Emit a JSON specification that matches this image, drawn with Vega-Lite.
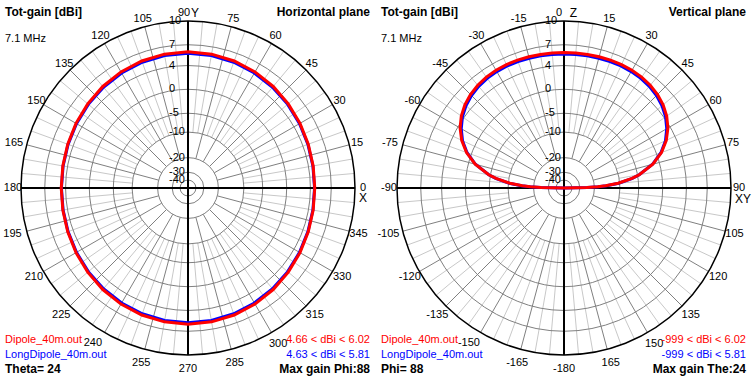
{
  "$schema": "https://vega.github.io/schema/vega-lite/v6.json",
  "background": "white",
  "padding": 0,
  "bounds": "flush",
  "spacing": 0,
  "config": {"view": {"stroke": null}, "text": {"font": "Liberation Sans", "fontSize": 11, "color": "black"}},
  "datasets": {
    "ang": [{"a":0},{"a":5},{"a":10},{"a":15},{"a":20},{"a":25},{"a":30},{"a":35},{"a":40},{"a":45},{"a":50},{"a":55},{"a":60},{"a":65},{"a":70},{"a":75},{"a":80},{"a":85},{"a":90},{"a":95},{"a":100},{"a":105},{"a":110},{"a":115},{"a":120},{"a":125},{"a":130},{"a":135},{"a":140},{"a":145},{"a":150},{"a":155},{"a":160},{"a":165},{"a":170},{"a":175},{"a":180},{"a":185},{"a":190},{"a":195},{"a":200},{"a":205},{"a":210},{"a":215},{"a":220},{"a":225},{"a":230},{"a":235},{"a":240},{"a":245},{"a":250},{"a":255},{"a":260},{"a":265},{"a":270},{"a":275},{"a":280},{"a":285},{"a":290},{"a":295},{"a":300},{"a":305},{"a":310},{"a":315},{"a":320},{"a":325},{"a":330},{"a":335},{"a":340},{"a":345},{"a":350},{"a":355}],
    "rings": [{"db":10},{"db":7},{"db":4},{"db":0},{"db":-5},{"db":-10},{"db":-20},{"db":-30},{"db":-40}],
    "hp": [
      {"s":"Dipole_40m.out","a":0,"g":4.66},{"s":"Dipole_40m.out","a":10,"g":4.71},{"s":"Dipole_40m.out","a":20,"g":4.84},{"s":"Dipole_40m.out","a":30,"g":5.04},{"s":"Dipole_40m.out","a":40,"g":5.27},{"s":"Dipole_40m.out","a":50,"g":5.51},{"s":"Dipole_40m.out","a":60,"g":5.72},{"s":"Dipole_40m.out","a":70,"g":5.88},{"s":"Dipole_40m.out","a":80,"g":5.99},{"s":"Dipole_40m.out","a":90,"g":6.02},{"s":"Dipole_40m.out","a":100,"g":5.99},{"s":"Dipole_40m.out","a":110,"g":5.88},{"s":"Dipole_40m.out","a":120,"g":5.72},{"s":"Dipole_40m.out","a":130,"g":5.51},{"s":"Dipole_40m.out","a":140,"g":5.27},{"s":"Dipole_40m.out","a":150,"g":5.04},{"s":"Dipole_40m.out","a":160,"g":4.84},{"s":"Dipole_40m.out","a":170,"g":4.71},{"s":"Dipole_40m.out","a":180,"g":4.66},{"s":"Dipole_40m.out","a":190,"g":4.71},{"s":"Dipole_40m.out","a":200,"g":4.84},{"s":"Dipole_40m.out","a":210,"g":5.04},{"s":"Dipole_40m.out","a":220,"g":5.27},{"s":"Dipole_40m.out","a":230,"g":5.51},{"s":"Dipole_40m.out","a":240,"g":5.72},{"s":"Dipole_40m.out","a":250,"g":5.88},{"s":"Dipole_40m.out","a":260,"g":5.99},{"s":"Dipole_40m.out","a":270,"g":6.02},{"s":"Dipole_40m.out","a":280,"g":5.99},{"s":"Dipole_40m.out","a":290,"g":5.88},{"s":"Dipole_40m.out","a":300,"g":5.72},{"s":"Dipole_40m.out","a":310,"g":5.51},{"s":"Dipole_40m.out","a":320,"g":5.27},{"s":"Dipole_40m.out","a":330,"g":5.04},{"s":"Dipole_40m.out","a":340,"g":4.84},{"s":"Dipole_40m.out","a":350,"g":4.71},{"s":"Dipole_40m.out","a":360,"g":4.66},
      {"s":"LongDipole_40m.out","a":0,"g":4.63},{"s":"LongDipole_40m.out","a":10,"g":4.67},{"s":"LongDipole_40m.out","a":20,"g":4.79},{"s":"LongDipole_40m.out","a":30,"g":4.96},{"s":"LongDipole_40m.out","a":40,"g":5.16},{"s":"LongDipole_40m.out","a":50,"g":5.36},{"s":"LongDipole_40m.out","a":60,"g":5.54},{"s":"LongDipole_40m.out","a":70,"g":5.69},{"s":"LongDipole_40m.out","a":80,"g":5.78},{"s":"LongDipole_40m.out","a":90,"g":5.81},{"s":"LongDipole_40m.out","a":100,"g":5.78},{"s":"LongDipole_40m.out","a":110,"g":5.69},{"s":"LongDipole_40m.out","a":120,"g":5.54},{"s":"LongDipole_40m.out","a":130,"g":5.36},{"s":"LongDipole_40m.out","a":140,"g":5.16},{"s":"LongDipole_40m.out","a":150,"g":4.96},{"s":"LongDipole_40m.out","a":160,"g":4.79},{"s":"LongDipole_40m.out","a":170,"g":4.67},{"s":"LongDipole_40m.out","a":180,"g":4.63},{"s":"LongDipole_40m.out","a":190,"g":4.67},{"s":"LongDipole_40m.out","a":200,"g":4.79},{"s":"LongDipole_40m.out","a":210,"g":4.96},{"s":"LongDipole_40m.out","a":220,"g":5.16},{"s":"LongDipole_40m.out","a":230,"g":5.36},{"s":"LongDipole_40m.out","a":240,"g":5.54},{"s":"LongDipole_40m.out","a":250,"g":5.69},{"s":"LongDipole_40m.out","a":260,"g":5.78},{"s":"LongDipole_40m.out","a":270,"g":5.81},{"s":"LongDipole_40m.out","a":280,"g":5.78},{"s":"LongDipole_40m.out","a":290,"g":5.69},{"s":"LongDipole_40m.out","a":300,"g":5.54},{"s":"LongDipole_40m.out","a":310,"g":5.36},{"s":"LongDipole_40m.out","a":320,"g":5.16},{"s":"LongDipole_40m.out","a":330,"g":4.96},{"s":"LongDipole_40m.out","a":340,"g":4.79},{"s":"LongDipole_40m.out","a":350,"g":4.67},{"s":"LongDipole_40m.out","a":360,"g":4.63}
    ],
    "vp": [
      {"s":"Dipole_40m.out","a":-90,"g":-999},{"s":"Dipole_40m.out","a":-89,"g":-24.42},{"s":"Dipole_40m.out","a":-88,"g":-18.4},{"s":"Dipole_40m.out","a":-87,"g":-14.9},{"s":"Dipole_40m.out","a":-85,"g":-10.49},{"s":"Dipole_40m.out","a":-82,"g":-6.47},{"s":"Dipole_40m.out","a":-80,"g":-4.6},{"s":"Dipole_40m.out","a":-75,"g":-1.29},{"s":"Dipole_40m.out","a":-70,"g":0.91},{"s":"Dipole_40m.out","a":-65,"g":2.48},{"s":"Dipole_40m.out","a":-60,"g":3.62},{"s":"Dipole_40m.out","a":-55,"g":4.45},{"s":"Dipole_40m.out","a":-50,"g":5.05},{"s":"Dipole_40m.out","a":-45,"g":5.47},{"s":"Dipole_40m.out","a":-40,"g":5.74},{"s":"Dipole_40m.out","a":-35,"g":5.91},{"s":"Dipole_40m.out","a":-30,"g":5.99},{"s":"Dipole_40m.out","a":-25,"g":6.02},{"s":"Dipole_40m.out","a":-20,"g":6.01},{"s":"Dipole_40m.out","a":-15,"g":5.98},{"s":"Dipole_40m.out","a":-10,"g":5.95},{"s":"Dipole_40m.out","a":-5,"g":5.93},{"s":"Dipole_40m.out","a":0,"g":5.92},{"s":"Dipole_40m.out","a":5,"g":5.93},{"s":"Dipole_40m.out","a":10,"g":5.95},{"s":"Dipole_40m.out","a":15,"g":5.98},{"s":"Dipole_40m.out","a":20,"g":6.01},{"s":"Dipole_40m.out","a":25,"g":6.02},{"s":"Dipole_40m.out","a":30,"g":5.99},{"s":"Dipole_40m.out","a":35,"g":5.91},{"s":"Dipole_40m.out","a":40,"g":5.74},{"s":"Dipole_40m.out","a":45,"g":5.47},{"s":"Dipole_40m.out","a":50,"g":5.05},{"s":"Dipole_40m.out","a":55,"g":4.45},{"s":"Dipole_40m.out","a":60,"g":3.62},{"s":"Dipole_40m.out","a":65,"g":2.48},{"s":"Dipole_40m.out","a":70,"g":0.91},{"s":"Dipole_40m.out","a":75,"g":-1.29},{"s":"Dipole_40m.out","a":80,"g":-4.6},{"s":"Dipole_40m.out","a":82,"g":-6.47},{"s":"Dipole_40m.out","a":85,"g":-10.49},{"s":"Dipole_40m.out","a":87,"g":-14.9},{"s":"Dipole_40m.out","a":88,"g":-18.4},{"s":"Dipole_40m.out","a":89,"g":-24.42},{"s":"Dipole_40m.out","a":90,"g":-999},
      {"s":"LongDipole_40m.out","a":-90,"g":-999},{"s":"LongDipole_40m.out","a":-89,"g":-23.92},{"s":"LongDipole_40m.out","a":-88,"g":-18.0},{"s":"LongDipole_40m.out","a":-87,"g":-14.6},{"s":"LongDipole_40m.out","a":-85,"g":-10.29},{"s":"LongDipole_40m.out","a":-82,"g":-6.37},{"s":"LongDipole_40m.out","a":-80,"g":-4.6},{"s":"LongDipole_40m.out","a":-75,"g":-1.34},{"s":"LongDipole_40m.out","a":-70,"g":0.81},{"s":"LongDipole_40m.out","a":-65,"g":2.33},{"s":"LongDipole_40m.out","a":-60,"g":3.41},{"s":"LongDipole_40m.out","a":-55,"g":4.24},{"s":"LongDipole_40m.out","a":-50,"g":4.84},{"s":"LongDipole_40m.out","a":-45,"g":5.26},{"s":"LongDipole_40m.out","a":-40,"g":5.53},{"s":"LongDipole_40m.out","a":-35,"g":5.7},{"s":"LongDipole_40m.out","a":-30,"g":5.78},{"s":"LongDipole_40m.out","a":-25,"g":5.81},{"s":"LongDipole_40m.out","a":-20,"g":5.8},{"s":"LongDipole_40m.out","a":-15,"g":5.77},{"s":"LongDipole_40m.out","a":-10,"g":5.74},{"s":"LongDipole_40m.out","a":-5,"g":5.72},{"s":"LongDipole_40m.out","a":0,"g":5.71},{"s":"LongDipole_40m.out","a":5,"g":5.72},{"s":"LongDipole_40m.out","a":10,"g":5.74},{"s":"LongDipole_40m.out","a":15,"g":5.77},{"s":"LongDipole_40m.out","a":20,"g":5.8},{"s":"LongDipole_40m.out","a":25,"g":5.81},{"s":"LongDipole_40m.out","a":30,"g":5.78},{"s":"LongDipole_40m.out","a":35,"g":5.7},{"s":"LongDipole_40m.out","a":40,"g":5.53},{"s":"LongDipole_40m.out","a":45,"g":5.26},{"s":"LongDipole_40m.out","a":50,"g":4.84},{"s":"LongDipole_40m.out","a":55,"g":4.24},{"s":"LongDipole_40m.out","a":60,"g":3.41},{"s":"LongDipole_40m.out","a":65,"g":2.33},{"s":"LongDipole_40m.out","a":70,"g":0.81},{"s":"LongDipole_40m.out","a":75,"g":-1.34},{"s":"LongDipole_40m.out","a":80,"g":-4.6},{"s":"LongDipole_40m.out","a":82,"g":-6.37},{"s":"LongDipole_40m.out","a":85,"g":-10.29},{"s":"LongDipole_40m.out","a":87,"g":-14.6},{"s":"LongDipole_40m.out","a":88,"g":-18.0},{"s":"LongDipole_40m.out","a":89,"g":-23.92},{"s":"LongDipole_40m.out","a":90,"g":-999}
    ]
  },
  "hconcat": [
    {
      "width": 376, "height": 376,
      "encoding": {
        "x": {"field": "x", "type": "quantitative", "scale": {"domain": [-188, 188], "nice": false, "zero": false}, "axis": null},
        "y": {"field": "y", "type": "quantitative", "scale": {"domain": [-188, 188], "nice": false, "zero": false}, "axis": null}
      },
      "layer": [
        {"data": {"name": "ang"}, "transform": [{"filter": "datum.a % 15 != 0"}, {"calculate": "55.9*cos(datum.a*PI/180)", "as": "x"}, {"calculate": "55.9*sin(datum.a*PI/180)", "as": "y"}, {"calculate": "167*cos(datum.a*PI/180)", "as": "x2"}, {"calculate": "167*sin(datum.a*PI/180)", "as": "y2"}],
          "mark": {"type": "rule", "color": "#c8c8c8", "strokeWidth": 1}, "encoding": {"x2": {"field": "x2"}, "y2": {"field": "y2"}}},
        {"data": {"name": "ang"}, "transform": [{"filter": "datum.a % 15 == 0"}, {"calculate": "30.4*cos(datum.a*PI/180)", "as": "x"}, {"calculate": "30.4*sin(datum.a*PI/180)", "as": "y"}, {"calculate": "167*cos(datum.a*PI/180)", "as": "x2"}, {"calculate": "167*sin(datum.a*PI/180)", "as": "y2"}],
          "mark": {"type": "rule", "color": "#808080", "strokeWidth": 1}, "encoding": {"x2": {"field": "x2"}, "y2": {"field": "y2"}}},
        {"data": {"name": "rings"}, "transform": [{"calculate": "167*exp(0.0505*(datum.db-10) - 0.00021*(datum.db-10)*(datum.db-10))", "as": "rr"}, {"calculate": "0", "as": "x"}, {"calculate": "0", "as": "y"}, {"calculate": "4*datum.rr*datum.rr", "as": "sz"}],
          "mark": {"type": "point", "shape": "circle", "filled": false, "strokeWidth": 1, "opacity": 1},
          "encoding": {"size": {"field": "sz", "type": "quantitative", "scale": null}, "color": {"condition": {"test": "datum.db == 10", "value": "#000000"}, "value": "#808080"}, "strokeWidth": {"condition": {"test": "datum.db == 10", "value": 1.5}, "value": 1}}},
        {"data": {"name": "rings"}, "transform": [{"filter": "datum.db == 10"}, {"calculate": "-167", "as": "x"}, {"calculate": "0", "as": "y"}, {"calculate": "167", "as": "x2"}],
          "mark": {"type": "rule", "color": "#000000", "strokeWidth": 2}, "encoding": {"x2": {"field": "x2"}}},
        {"data": {"name": "rings"}, "transform": [{"filter": "datum.db == 10"}, {"calculate": "0", "as": "x"}, {"calculate": "-167", "as": "y"}, {"calculate": "167", "as": "y2"}],
          "mark": {"type": "rule", "color": "#000000", "strokeWidth": 2}, "encoding": {"y2": {"field": "y2"}}},
        {"data": {"name": "hp"}, "transform": [{"filter": "datum.s == 'LongDipole_40m.out'"}, {"calculate": "167*exp(0.0505*(datum.g-10) - 0.00021*(datum.g-10)*(datum.g-10))", "as": "rr"}, {"calculate": "datum.rr*cos(datum.a*PI/180)", "as": "x"}, {"calculate": "datum.rr*sin(datum.a*PI/180)", "as": "y"}],
          "mark": {"type": "line", "color": "#0000ff", "strokeWidth": 3}, "encoding": {"order": {"field": "a", "type": "quantitative"}}},
        {"data": {"name": "hp"}, "transform": [{"filter": "datum.s == 'Dipole_40m.out'"}, {"calculate": "167*exp(0.0505*(datum.g-10) - 0.00021*(datum.g-10)*(datum.g-10))", "as": "rr"}, {"calculate": "datum.rr*cos(datum.a*PI/180)", "as": "x"}, {"calculate": "datum.rr*sin(datum.a*PI/180)", "as": "y"}],
          "mark": {"type": "line", "color": "#ff0000", "strokeWidth": 3}, "encoding": {"order": {"field": "a", "type": "quantitative"}}},
        {"data": {"name": "rings"}, "transform": [{"calculate": "167*exp(0.0505*(datum.db-10) - 0.00021*(datum.db-10)*(datum.db-10))", "as": "rr"}, {"calculate": "-19", "as": "x"}, {"calculate": "datum.rr", "as": "y"}],
          "mark": {"type": "text", "align": "left", "baseline": "middle", "fontSize": 11}, "encoding": {"text": {"field": "db", "type": "nominal"}}},
        {"data": {"name": "ang"}, "transform": [{"filter": "datum.a % 15 == 0"}, {"calculate": "175 + 6*max(0, -sin(datum.a*PI/180))", "as": "D"}, {"calculate": "datum.D*cos(datum.a*PI/180) + (datum.a == 90 ? -4 : 0) + (datum.a == 165 || datum.a == 195 || datum.a == 240 ? -5 : 0)", "as": "x"}, {"calculate": "datum.D*sin(datum.a*PI/180) + (datum.a == 240 ? 1 : 0)", "as": "y"}, {"calculate": "toString(datum.a)", "as": "t"}],
          "mark": {"type": "text", "align": "center", "baseline": "middle", "fontSize": 11}, "encoding": {"text": {"field": "t", "type": "nominal"}}},
        {"data": {"values": [{"t": "Y"}]}, "transform": [{"calculate": "7", "as": "x"}, {"calculate": "175", "as": "y"}], "mark": {"type": "text", "align": "center", "baseline": "middle", "fontSize": 12}, "encoding": {"text": {"field": "t", "type": "nominal"}}},
        {"data": {"values": [{"t": "X"}]}, "transform": [{"calculate": "175", "as": "x"}, {"calculate": "-10", "as": "y"}], "mark": {"type": "text", "align": "center", "baseline": "middle", "fontSize": 12}, "encoding": {"text": {"field": "t", "type": "nominal"}}},
        {"data": {"values": [{"t": "Tot-gain [dBi]"}]}, "transform": [{"calculate": "-183", "as": "x"}, {"calculate": "176", "as": "y"}], "mark": {"type": "text", "align": "left", "baseline": "middle", "fontSize": 12, "fontWeight": "bold"}, "encoding": {"text": {"field": "t", "type": "nominal"}}},
        {"data": {"values": [{"t": "Horizontal plane"}]}, "transform": [{"calculate": "182", "as": "x"}, {"calculate": "176", "as": "y"}], "mark": {"type": "text", "align": "right", "baseline": "middle", "fontSize": 12, "fontWeight": "bold"}, "encoding": {"text": {"field": "t", "type": "nominal"}}},
        {"data": {"values": [{"t": "7.1 MHz"}]}, "transform": [{"calculate": "-183", "as": "x"}, {"calculate": "149", "as": "y"}], "mark": {"type": "text", "align": "left", "baseline": "middle", "fontSize": 11}, "encoding": {"text": {"field": "t", "type": "nominal"}}},
        {"data": {"values": [{"t": "Dipole_40m.out"}]}, "transform": [{"calculate": "-183", "as": "x"}, {"calculate": "-152", "as": "y"}], "mark": {"type": "text", "align": "left", "baseline": "middle", "fontSize": 11, "color": "#ff0000"}, "encoding": {"text": {"field": "t", "type": "nominal"}}},
        {"data": {"values": [{"t": "LongDipole_40m.out"}]}, "transform": [{"calculate": "-183", "as": "x"}, {"calculate": "-167", "as": "y"}], "mark": {"type": "text", "align": "left", "baseline": "middle", "fontSize": 11, "color": "#0000ff"}, "encoding": {"text": {"field": "t", "type": "nominal"}}},
        {"data": {"values": [{"t": "Theta= 24"}]}, "transform": [{"calculate": "-183", "as": "x"}, {"calculate": "-181", "as": "y"}], "mark": {"type": "text", "align": "left", "baseline": "middle", "fontSize": 12, "fontWeight": "bold"}, "encoding": {"text": {"field": "t", "type": "nominal"}}},
        {"data": {"values": [{"t": "4.66 < dBi < 6.02"}]}, "transform": [{"calculate": "182", "as": "x"}, {"calculate": "-152", "as": "y"}], "mark": {"type": "text", "align": "right", "baseline": "middle", "fontSize": 11, "color": "#ff0000"}, "encoding": {"text": {"field": "t", "type": "nominal"}}},
        {"data": {"values": [{"t": "4.63 < dBi < 5.81"}]}, "transform": [{"calculate": "182", "as": "x"}, {"calculate": "-167", "as": "y"}], "mark": {"type": "text", "align": "right", "baseline": "middle", "fontSize": 11, "color": "#0000ff"}, "encoding": {"text": {"field": "t", "type": "nominal"}}},
        {"data": {"values": [{"t": "Max gain Phi:88"}]}, "transform": [{"calculate": "182", "as": "x"}, {"calculate": "-181", "as": "y"}], "mark": {"type": "text", "align": "right", "baseline": "middle", "fontSize": 12, "fontWeight": "bold"}, "encoding": {"text": {"field": "t", "type": "nominal"}}}
      ]
    },
    {
      "width": 376, "height": 376,
      "encoding": {
        "x": {"field": "x", "type": "quantitative", "scale": {"domain": [-188, 188], "nice": false, "zero": false}, "axis": null},
        "y": {"field": "y", "type": "quantitative", "scale": {"domain": [-188, 188], "nice": false, "zero": false}, "axis": null}
      },
      "layer": [
        {"data": {"name": "ang"}, "transform": [{"filter": "datum.a % 15 != 0"}, {"calculate": "55.9*cos(datum.a*PI/180)", "as": "x"}, {"calculate": "55.9*sin(datum.a*PI/180)", "as": "y"}, {"calculate": "167*cos(datum.a*PI/180)", "as": "x2"}, {"calculate": "167*sin(datum.a*PI/180)", "as": "y2"}],
          "mark": {"type": "rule", "color": "#c8c8c8", "strokeWidth": 1}, "encoding": {"x2": {"field": "x2"}, "y2": {"field": "y2"}}},
        {"data": {"name": "ang"}, "transform": [{"filter": "datum.a % 15 == 0"}, {"calculate": "30.4*cos(datum.a*PI/180)", "as": "x"}, {"calculate": "30.4*sin(datum.a*PI/180)", "as": "y"}, {"calculate": "167*cos(datum.a*PI/180)", "as": "x2"}, {"calculate": "167*sin(datum.a*PI/180)", "as": "y2"}],
          "mark": {"type": "rule", "color": "#808080", "strokeWidth": 1}, "encoding": {"x2": {"field": "x2"}, "y2": {"field": "y2"}}},
        {"data": {"name": "rings"}, "transform": [{"calculate": "167*exp(0.0505*(datum.db-10) - 0.00021*(datum.db-10)*(datum.db-10))", "as": "rr"}, {"calculate": "0", "as": "x"}, {"calculate": "0", "as": "y"}, {"calculate": "4*datum.rr*datum.rr", "as": "sz"}],
          "mark": {"type": "point", "shape": "circle", "filled": false, "strokeWidth": 1, "opacity": 1},
          "encoding": {"size": {"field": "sz", "type": "quantitative", "scale": null}, "color": {"condition": {"test": "datum.db == 10", "value": "#000000"}, "value": "#808080"}, "strokeWidth": {"condition": {"test": "datum.db == 10", "value": 1.5}, "value": 1}}},
        {"data": {"name": "rings"}, "transform": [{"filter": "datum.db == 10"}, {"calculate": "-167", "as": "x"}, {"calculate": "0", "as": "y"}, {"calculate": "167", "as": "x2"}],
          "mark": {"type": "rule", "color": "#000000", "strokeWidth": 2}, "encoding": {"x2": {"field": "x2"}}},
        {"data": {"name": "rings"}, "transform": [{"filter": "datum.db == 10"}, {"calculate": "0", "as": "x"}, {"calculate": "-167", "as": "y"}, {"calculate": "167", "as": "y2"}],
          "mark": {"type": "rule", "color": "#000000", "strokeWidth": 2}, "encoding": {"y2": {"field": "y2"}}},
        {"data": {"name": "vp"}, "transform": [{"filter": "datum.s == 'LongDipole_40m.out'"}, {"calculate": "167*exp(0.0505*(datum.g-10) - 0.00021*(datum.g-10)*(datum.g-10))", "as": "rr"}, {"calculate": "datum.rr*sin(datum.a*PI/180)", "as": "x"}, {"calculate": "datum.rr*cos(datum.a*PI/180)", "as": "y"}],
          "mark": {"type": "line", "color": "#0000ff", "strokeWidth": 3}, "encoding": {"order": {"field": "a", "type": "quantitative"}}},
        {"data": {"name": "vp"}, "transform": [{"filter": "datum.s == 'Dipole_40m.out'"}, {"calculate": "167*exp(0.0505*(datum.g-10) - 0.00021*(datum.g-10)*(datum.g-10))", "as": "rr"}, {"calculate": "datum.rr*sin(datum.a*PI/180)", "as": "x"}, {"calculate": "datum.rr*cos(datum.a*PI/180)", "as": "y"}],
          "mark": {"type": "line", "color": "#ff0000", "strokeWidth": 3}, "encoding": {"order": {"field": "a", "type": "quantitative"}}},
        {"data": {"name": "rings"}, "transform": [{"calculate": "167*exp(0.0505*(datum.db-10) - 0.00021*(datum.db-10)*(datum.db-10))", "as": "rr"}, {"calculate": "-19", "as": "x"}, {"calculate": "datum.rr", "as": "y"}],
          "mark": {"type": "text", "align": "left", "baseline": "middle", "fontSize": 11}, "encoding": {"text": {"field": "db", "type": "nominal"}}},
        {"data": {"name": "ang"}, "transform": [{"filter": "datum.a % 15 == 0"}, {"calculate": "175 + 6*max(0, -sin(datum.a*PI/180))", "as": "D"}, {"calculate": "datum.D*cos(datum.a*PI/180) + (datum.a == 90 ? -5 : 0) + (datum.a == 165 || datum.a == 195 || datum.a == 240 ? -5 : 0)", "as": "x"}, {"calculate": "datum.D*sin(datum.a*PI/180) + (datum.a == 240 ? 1 : 0)", "as": "y"}, {"calculate": "(450 - datum.a) % 360", "as": "th"}, {"calculate": "toString(datum.th < 180 ? datum.th : datum.th - 360)", "as": "t"}],
          "mark": {"type": "text", "align": "center", "baseline": "middle", "fontSize": 11}, "encoding": {"text": {"field": "t", "type": "nominal"}}},
        {"data": {"values": [{"t": "Z"}]}, "transform": [{"calculate": "9.5", "as": "x"}, {"calculate": "175", "as": "y"}], "mark": {"type": "text", "align": "center", "baseline": "middle", "fontSize": 12}, "encoding": {"text": {"field": "t", "type": "nominal"}}},
        {"data": {"values": [{"t": "XY"}]}, "transform": [{"calculate": "179", "as": "x"}, {"calculate": "-11", "as": "y"}], "mark": {"type": "text", "align": "center", "baseline": "middle", "fontSize": 12}, "encoding": {"text": {"field": "t", "type": "nominal"}}},
        {"data": {"values": [{"t": "Tot-gain [dBi]"}]}, "transform": [{"calculate": "-183", "as": "x"}, {"calculate": "176", "as": "y"}], "mark": {"type": "text", "align": "left", "baseline": "middle", "fontSize": 12, "fontWeight": "bold"}, "encoding": {"text": {"field": "t", "type": "nominal"}}},
        {"data": {"values": [{"t": "Vertical plane"}]}, "transform": [{"calculate": "182", "as": "x"}, {"calculate": "176", "as": "y"}], "mark": {"type": "text", "align": "right", "baseline": "middle", "fontSize": 12, "fontWeight": "bold"}, "encoding": {"text": {"field": "t", "type": "nominal"}}},
        {"data": {"values": [{"t": "7.1 MHz"}]}, "transform": [{"calculate": "-183", "as": "x"}, {"calculate": "149", "as": "y"}], "mark": {"type": "text", "align": "left", "baseline": "middle", "fontSize": 11}, "encoding": {"text": {"field": "t", "type": "nominal"}}},
        {"data": {"values": [{"t": "Dipole_40m.out"}]}, "transform": [{"calculate": "-183", "as": "x"}, {"calculate": "-152", "as": "y"}], "mark": {"type": "text", "align": "left", "baseline": "middle", "fontSize": 11, "color": "#ff0000"}, "encoding": {"text": {"field": "t", "type": "nominal"}}},
        {"data": {"values": [{"t": "LongDipole_40m.out"}]}, "transform": [{"calculate": "-183", "as": "x"}, {"calculate": "-167", "as": "y"}], "mark": {"type": "text", "align": "left", "baseline": "middle", "fontSize": 11, "color": "#0000ff"}, "encoding": {"text": {"field": "t", "type": "nominal"}}},
        {"data": {"values": [{"t": "Phi= 88"}]}, "transform": [{"calculate": "-183", "as": "x"}, {"calculate": "-181", "as": "y"}], "mark": {"type": "text", "align": "left", "baseline": "middle", "fontSize": 12, "fontWeight": "bold"}, "encoding": {"text": {"field": "t", "type": "nominal"}}},
        {"data": {"values": [{"t": "-999 < dBi < 6.02"}]}, "transform": [{"calculate": "182", "as": "x"}, {"calculate": "-152", "as": "y"}], "mark": {"type": "text", "align": "right", "baseline": "middle", "fontSize": 11, "color": "#ff0000"}, "encoding": {"text": {"field": "t", "type": "nominal"}}},
        {"data": {"values": [{"t": "-999 < dBi < 5.81"}]}, "transform": [{"calculate": "182", "as": "x"}, {"calculate": "-167", "as": "y"}], "mark": {"type": "text", "align": "right", "baseline": "middle", "fontSize": 11, "color": "#0000ff"}, "encoding": {"text": {"field": "t", "type": "nominal"}}},
        {"data": {"values": [{"t": "Max gain The:24"}]}, "transform": [{"calculate": "182", "as": "x"}, {"calculate": "-181", "as": "y"}], "mark": {"type": "text", "align": "right", "baseline": "middle", "fontSize": 12, "fontWeight": "bold"}, "encoding": {"text": {"field": "t", "type": "nominal"}}}
      ]
    }
  ]
}
